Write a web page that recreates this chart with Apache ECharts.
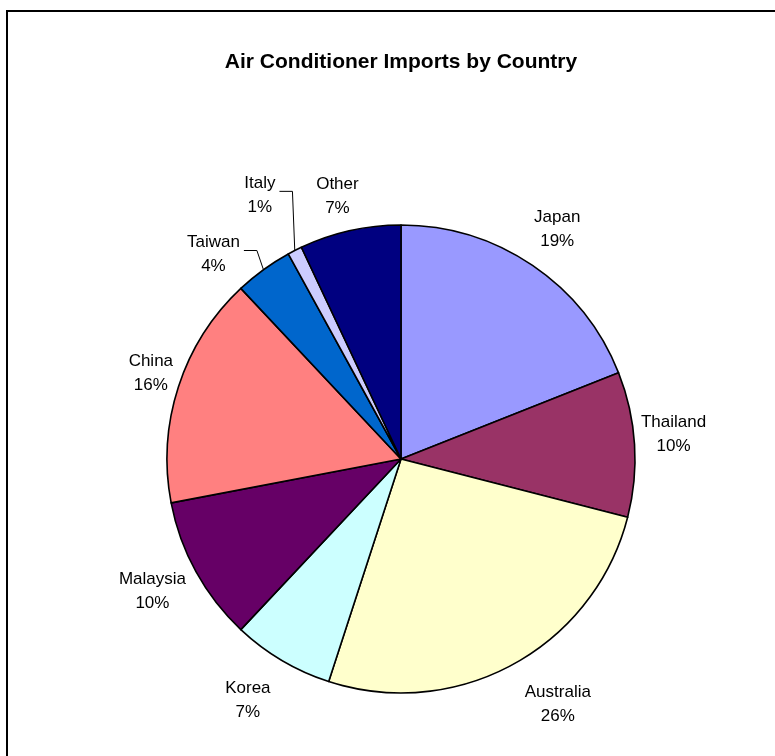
<!DOCTYPE html>
<html>
<head>
<meta charset="utf-8">
<script src="https://cdn.jsdelivr.net/npm/echarts@6/dist/echarts.min.js"></script>
<style>
  html, body { margin: 0; padding: 0; background: #fff; }
  #chart { width: 775px; height: 756px; }
</style>
</head>
<body>
<div id="chart"></div>
<script>
// Import share by country of origin (percent)
const countries = ['Japan', 'Thailand', 'Australia', 'Korea', 'Malaysia', 'China', 'Taiwan', 'Italy', 'Other'];
const shares = [19, 10, 26, 7, 10, 16, 4, 1, 7];
const sliceColors = ['#9999FF', '#993366', '#FFFFCC', '#CCFFFF', '#660066', '#FF8080', '#0066CC', '#CCCCFF', '#000080'];

// pie geometry (pixels)
const CX = 401, CY = 459, R = 234;
const LABEL_GAP = 11;
// small hand adjustments of label placement (pixels)
const labelNudge = {
  Thailand: [-6, -7], Australia: [21, -2], Korea: [-12, 3], Malaysia: [2, -5],
  China: [10, -1], Other: [-4, 4], Taiwan: [-23, 22], Italy: [-17, -20]
};
// labels that sit away from their slices and get a leader line
const leaderLabels = ['Taiwan', 'Italy'];

const total = shares.reduce((a, b) => a + b, 0);
const midAngles = [];
let acc = 0;
shares.forEach(v => {
  midAngles.push((acc + v / 2) / total * 2 * Math.PI); // clockwise from 12 o'clock
  acc += v;
});

const chart = echarts.init(document.getElementById('chart'), null, { renderer: 'canvas' });

chart.setOption({
  animation: false,
  backgroundColor: '#ffffff',
  title: {
    text: 'Air Conditioner Imports by Country',
    left: 401,
    top: 52,
    padding: 0,
    textAlign: 'center',
    textStyle: { fontFamily: 'Liberation Sans, Arial, sans-serif', fontSize: 21, fontWeight: 'bold', color: '#000' }
  },
  graphic: [{
    type: 'rect',
    silent: true,
    shape: { x: 7, y: 11, width: 900, height: 900 },
    style: { fill: 'none', stroke: '#000', lineWidth: 2 }
  }],
  series: [{
    type: 'pie',
    center: [CX, CY],
    radius: [0, R],
    startAngle: 90,
    clockwise: true,
    avoidLabelOverlap: false,
    itemStyle: { borderColor: '#000', borderWidth: 1.6 },
    label: {
      show: true,
      position: 'outside',
      formatter: p => p.name + '\n' + p.value + '%',
      fontFamily: 'Liberation Sans, Arial, sans-serif',
      fontSize: 17,
      lineHeight: 24,
      color: '#000',
      align: 'center'
    },
    labelLine: { show: false, lineStyle: { color: '#000', width: 1 } },
    labelLayout: params => {
      const i = params.dataIndex;
      const a = midAngles[i];
      const sx = Math.sin(a), sy = -Math.cos(a);
      const w = params.labelRect.width, h = params.labelRect.height;
      const d = R + LABEL_GAP + Math.abs(sx) * w / 2 + Math.abs(sy) * h / 2;
      let x = CX + sx * d, y = CY + sy * d;
      const nudge = labelNudge[countries[i]];
      if (nudge) {
        x += nudge[0];
        y += nudge[1];
      }
      const out = { x, y, align: 'center', verticalAlign: 'middle' };
      if (leaderLabels.includes(countries[i])) {
        const lineY = y - 4;
        const endX = x + w / 2 + 4;
        out.labelLinePoints = [
          [CX + sx * R, CY + sy * R],
          [endX + 13, lineY],
          [endX, lineY]
        ];
      }
      return out;
    },
    data: countries.map((name, i) => ({
      name,
      value: shares[i],
      itemStyle: { color: sliceColors[i] },
      labelLine: { show: leaderLabels.includes(name) }
    }))
  }]
});
</script>
</body>
</html>
